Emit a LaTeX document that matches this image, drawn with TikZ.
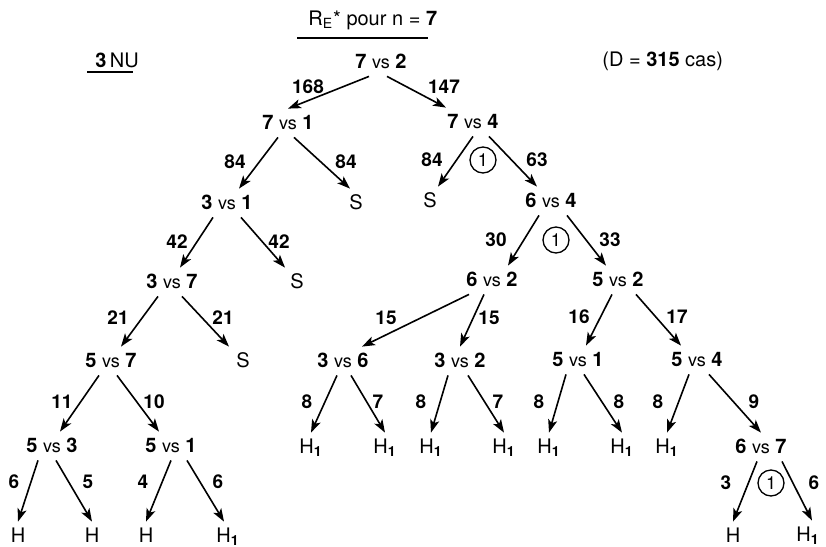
\documentclass[tikz,border=0pt]{standalone}
\usepackage{fontspec}
\setmainfont{TeX Gyre Heros}
\usetikzlibrary{arrows.meta}

\newcommand{\duel}[2]{\textbf{#1} {\small vs} \textbf{#2}}
\newcommand{\hun}{H\textsubscript{\textbf{1}}}

\tikzset{
	etat/.style={inner sep=2.5pt, text height=7.5pt, text depth=1.5pt, font=\fontsize{10}{12}\selectfont},
	num/.style={inner sep=1pt, font=\fontsize{9.5}{11}\selectfont\bfseries},
	ring/.style={draw, circle, line width=0.65pt, minimum size=13pt, inner sep=0pt, font=\fontsize{9}{10}\selectfont},
	arr/.style={line width=0.8pt, -{Stealth[length=6.5pt,width=4.6pt,inset=1.6pt]}},
}

\begin{document}
\begin{tikzpicture}[x=0.5pt, y=-0.5pt]
	\useasboundingbox (0,0) rectangle (826,547);

	% headings
	\node[etat, anchor=base west] (titre) at (303,25) {R\textsubscript{E}* pour n = \textbf{7}};
	\draw[line width=0.8pt] (297,38) -- (428,38);
	\node[etat, anchor=base west] (nu) at (90,67) {\textbf{3}\,NU};
	\draw[line width=0.8pt] (87,72) -- (133,72);
	\node[etat, anchor=base west] (cas) at (597,66) {(D = \textbf{315} cas)};

	% positions
	\node[etat] (root) at (381,62) {\duel{7}{2}};
	\node[etat] (a) at (288,123) {\duel{7}{1}};
	\node[etat] (b) at (473,122) {\duel{7}{4}};
	\node[etat] (a1) at (227,203) {\duel{3}{1}};
	\node[etat] (aS) at (356,203) {S};
	\node[etat] (bS) at (430,201) {S};
	\node[etat] (c) at (551,201) {\duel{6}{4}};
	\node[etat] (a2) at (172,282) {\duel{3}{7}};
	\node[etat] (a1S) at (297,282) {S};
	\node[etat] (c1) at (492,280) {\duel{6}{2}};
	\node[etat] (c2) at (618,280) {\duel{5}{2}};
	\node[etat] (a3) at (111,361) {\duel{5}{7}};
	\node[etat] (a2S) at (243,361) {S};
	\node[etat] (d1) at (343,361) {\duel{3}{6}};
	\node[etat] (d2) at (460,361) {\duel{3}{2}};
	\node[etat] (e1) at (578,360) {\duel{5}{1}};
	\node[etat] (e2) at (697,360) {\duel{5}{4}};
	\node[etat] (f1) at (52,446) {\duel{5}{3}};
	\node[etat] (f2) at (171,446) {\duel{5}{1}};
	\node[etat] (d1l) at (311,447) {\hun};
	\node[etat] (d1r) at (385,447) {\hun};
	\node[etat] (d2l) at (431,447) {\hun};
	\node[etat] (d2r) at (504,447) {\hun};
	\node[etat] (e1l) at (549,447) {\hun};
	\node[etat] (e1r) at (622,447) {\hun};
	\node[etat] (e2l) at (667,447) {\hun};
	\node[etat] (g) at (761,447) {\duel{6}{7}};
	\node[etat] (f1l) at (18,536) {H};
	\node[etat] (f1r) at (92,536) {H};
	\node[etat] (f2l) at (146,536) {H};
	\node[etat] (f2r) at (228,536) {\hun};
	\node[etat] (gl) at (733,536) {H};
	\node[etat] (gr) at (808,535) {\hun};

	% arrows
	\draw[arr] ([xshift=-6pt]root.south) -- (a.north);
	\draw[arr] ([xshift=3pt]root.south) -- ([xshift=2pt]b.north west);
	\draw[arr] ([xshift=-5pt]a.south) -- ([xshift=6pt]a1.north);
	\draw[arr] ([xshift=3pt]a.south) -- ([xshift=-3pt]aS.north);
	\draw[arr] (b.south) -- ([xshift=4pt]bS.north);
	\draw[arr] ([xshift=8pt]b.south) -- ([xshift=-7pt]c.north);
	\draw[arr] ([xshift=-7pt]a1.south) -- ([xshift=4pt]a2.north);
	\draw[arr] ([xshift=7pt]a1.south) -- ([xshift=-6pt]a1S.north);
	\draw[arr] ([xshift=-6pt]c.south) -- ([xshift=8pt]c1.north);
	\draw[arr] ([xshift=8pt]c.south) -- ([xshift=-6pt]c2.north);
	\draw[arr] ([xshift=-7pt]a2.south) -- ([xshift=5pt]a3.north);
	\draw[arr] ([xshift=5pt]a2.south) -- ([xshift=-7pt]a2S.north);
	\draw[arr] ([xshift=4pt]c1.south west) -- ([xshift=-6pt]d1.north east);
	\draw[arr] ([xshift=-4pt]c1.south) -- (d2.north);
	\draw[arr] ([xshift=-3pt]c2.south) -- ([xshift=4pt]e1.north);
	\draw[arr] ([xshift=9pt]c2.south) -- ([xshift=-8pt]e2.north);
	\draw[arr] ([xshift=-6pt]a3.south) -- ([xshift=4pt]f1.north);
	\draw[arr] ([xshift=3pt]a3.south) -- ([xshift=-6pt]f2.north);
	\draw[arr] ([xshift=-3pt]d1.south) -- (d1l.north);
	\draw[arr] ([xshift=4pt]d1.south) -- (d1r.north);
	\draw[arr] ([xshift=-6pt]d2.south) -- (d2l.north);
	\draw[arr] ([xshift=4pt]d2.south) -- (d2r.north);
	\draw[arr] ([xshift=-6pt]e1.south) -- (e1l.north);
	\draw[arr] ([xshift=3pt]e1.south) -- (e1r.north);
	\draw[arr] ([xshift=-4pt]e2.south) -- (e2l.north);
	\draw[arr] ([xshift=6pt]e2.south) -- (g.north);
	\draw[arr] ([xshift=-7pt]f1.south) -- (f1l.north);
	\draw[arr] ([xshift=2pt]f1.south) -- (f1r.north);
	\draw[arr] (f2.south) -- (f2l.north);
	\draw[arr] ([xshift=8pt]f2.south) -- ([xshift=-2pt]f2r.north);
	\draw[arr] ([xshift=-2pt]g.south) -- (gl.north);
	\draw[arr] ([xshift=-5pt]g.south east) -- ([xshift=2pt]gr.north);

	% counts
	\node[num] (w168) at (308,87) {168};
	\node[num] (w147) at (444,87) {147};
	\node[num] (w84a) at (235,162) {84};
	\node[num] (w84b) at (346,162) {84};
	\node[num] (w84c) at (432,160) {84};
	\node[ring] (r1) at (483,160) {1};
	\node[num] (w63) at (537,160) {63};
	\node[num] (w42a) at (177,242) {42};
	\node[num] (w42b) at (279,242) {42};
	\node[num] (w30) at (496,240) {30};
	\node[ring] (r2) at (556,240) {1};
	\node[num] (w33) at (610,240) {33};
	\node[num] (w21a) at (118,318) {21};
	\node[num] (w21b) at (223,318) {21};
	\node[num] (w15a) at (386,318) {15};
	\node[num] (w15b) at (489,318) {15};
	\node[num] (w16) at (579,317) {16};
	\node[num] (w17) at (677,317) {17};
	\node[num] (w11) at (62,402) {11};
	\node[num] (w10) at (154,402) {10};
	\node[num] (w8a) at (307,402) {8};
	\node[num] (w7a) at (378,402) {7};
	\node[num] (w8b) at (421,402) {8};
	\node[num] (w7b) at (498,402) {7};
	\node[num] (w8c) at (539,402) {8};
	\node[num] (w8d) at (619,402) {8};
	\node[num] (w8e) at (658,402) {8};
	\node[num] (w9) at (754,402) {9};
	\node[num] (w6a) at (14,482) {6};
	\node[num] (w5) at (88,482) {5};
	\node[num] (w4) at (143,482) {4};
	\node[num] (w6b) at (218,482) {6};
	\node[num] (w3) at (726,483) {3};
	\node[ring] (r3) at (771,483) {1};
	\node[num] (w6c) at (814,483) {6};
\end{tikzpicture}
\end{document}
